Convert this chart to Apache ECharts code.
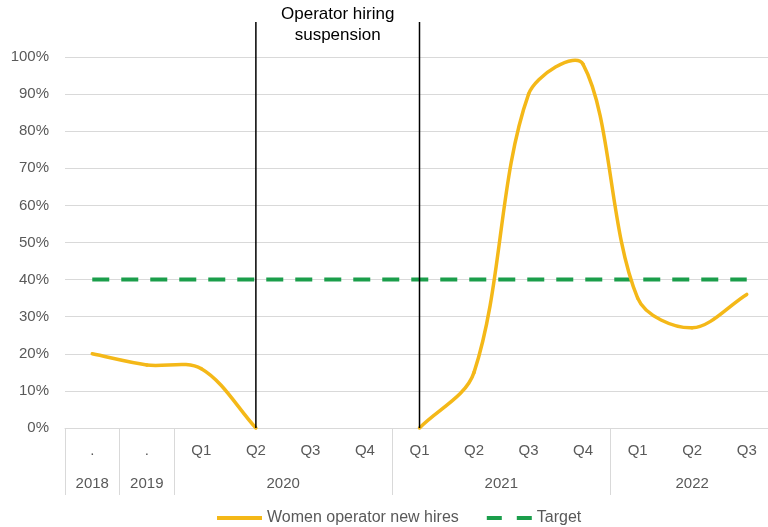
<!DOCTYPE html>
<html>
<head>
<meta charset="utf-8">
<title>Women operator new hires</title>
<script src="https://cdn.jsdelivr.net/npm/echarts@6/dist/echarts.min.js"></script>
<style>
  html, body { margin: 0; padding: 0; background: #ffffff; }
  #chart { width: 768px; height: 527px; }
</style>
</head>
<body>
<div id="chart"></div>
<script>
// Category labels (first axis row) and year groups (second axis row)
const quarterLabels = ['.', '.', 'Q1', 'Q2', 'Q3', 'Q4', 'Q1', 'Q2', 'Q3', 'Q4', 'Q1', 'Q2', 'Q3'];
const yearLabels = ['2018', '2019', '2020', '2021', '2022'];
const yearSpans = [1, 1, 4, 4, 3];

// Share of women among new operator hires (%), gap while hiring was suspended
const womenHires = [20, 17, 16, 0, null, null, 0, 15, 90, 98, 35, 27, 36];
const target = [40, 40, 40, 40, 40, 40, 40, 40, 40, 40, 40, 40, 40];

// Category indices bounding the hiring suspension
const suspensionStart = 3;
const suspensionEnd = 6;
const suspensionText = 'Operator hiring\nsuspension';

const labelColor = '#595959';
const gridColor = '#d9d9d9';
const hireColor = '#f4b818';
const targetColor = '#1b9e4b';
const fontFamily = '"Liberation Sans", Arial, sans-serif';

// Group boundaries (category index where each year starts) and group centres
const groupStarts = [];
const groupCentres = {};
let acc = 0;
yearSpans.forEach((span, i) => {
  groupStarts.push(acc);
  groupCentres[(acc + span / 2).toFixed(1)] = yearLabels[i];
  acc += span;
});

// One record per drawable segment: [startIndex, startValue, endValue]
const hireSegments = [];
for (let i = 0; i < womenHires.length - 1; i++) {
  if (womenHires[i] != null && womenHires[i + 1] != null) {
    hireSegments.push([i, womenHires[i], womenHires[i + 1]]);
  }
}

function hasValue(i) {
  return i >= 0 && i < womenHires.length && womenHires[i] != null;
}

// Smoothed segment: cubic Bezier whose handles follow the neighbouring points,
// scaled by chord length (spreadsheet-style smoothed line).
function renderHireSegment(params, api) {
  const i = api.value(0);
  const pt = (k) => api.coord([k, womenHires[k]]);
  const p1 = pt(i);
  const p2 = pt(i + 1);
  const p0 = hasValue(i - 1) ? pt(i - 1) : p1;
  const p3 = hasValue(i + 2) ? pt(i + 2) : p2;
  const dist = (a, b) => Math.hypot(b[0] - a[0], b[1] - a[1]);
  const d01 = dist(p0, p1), d12 = dist(p1, p2), d23 = dist(p2, p3);
  const t = 1 / 3;
  const f1 = (d01 + d12) > 0 ? t * d12 / (d01 + d12) : 0;
  const f2 = (d12 + d23) > 0 ? t * d12 / (d12 + d23) : 0;
  return {
    type: 'bezierCurve',
    shape: {
      x1: p1[0], y1: p1[1],
      cpx1: p1[0] + (p2[0] - p0[0]) * f1,
      cpy1: p1[1] + (p2[1] - p0[1]) * f1,
      cpx2: p2[0] - (p3[0] - p1[0]) * f2,
      cpy2: p2[1] - (p3[1] - p1[1]) * f2,
      x2: p2[0], y2: p2[1]
    },
    style: { stroke: hireColor, lineWidth: 3.5, fill: null, lineCap: 'round' },
    z2: 5
  };
}

const chart = echarts.init(document.getElementById('chart'), null, { renderer: 'canvas' });

chart.setOption({
  animation: false,
  backgroundColor: '#ffffff',
  textStyle: { fontFamily: fontFamily },
  grid: {
    left: 65, width: 709, top: 57, bottom: 99,
    containLabel: false,
    outerBoundsMode: 'none'
  },
  legend: {
    left: 217,
    top: 510,
    padding: 0,
    itemWidth: 45,
    itemHeight: 4,
    itemGap: 28,
    textStyle: { color: labelColor, fontSize: 16, fontFamily: fontFamily },
    data: [
      { name: 'Women operator new hires', icon: 'path://M0,0H45V4H0Z' },
      { name: 'Target', icon: 'path://M0,0H15V4H0Z M30,0H45V4H30Z' }
    ]
  },
  xAxis: [
    {
      type: 'category',
      data: quarterLabels,
      boundaryGap: true,
      axisLine: { show: true, lineStyle: { color: gridColor, width: 1 } },
      axisTick: {
        show: true,
        length: 67,
        lineStyle: { color: gridColor, width: 1 },
        interval: function (idx) { return groupStarts.indexOf(idx) !== -1; }
      },
      axisLabel: {
        interval: 0,
        margin: 15,
        color: labelColor,
        fontSize: 15,
        fontFamily: fontFamily
      },
      splitLine: { show: false }
    },
    {
      type: 'value',
      position: 'bottom',
      min: 0,
      max: quarterLabels.length,
      interval: 0.5,
      axisLine: { show: false },
      axisTick: { show: false },
      splitLine: { show: false },
      axisLabel: {
        margin: 48,
        color: labelColor,
        fontSize: 15,
        fontFamily: fontFamily,
        showMinLabel: true,
        showMaxLabel: true,
        formatter: function (v) { return groupCentres[v.toFixed(1)] || ''; }
      }
    }
  ],
  yAxis: {
    type: 'value',
    min: 0,
    max: 100,
    interval: 10,
    axisLine: { show: false },
    axisTick: { show: false },
    axisLabel: {
      formatter: '{value}%',
      margin: 16,
      color: labelColor,
      fontSize: 15,
      fontFamily: fontFamily
    },
    splitLine: { show: true, lineStyle: { color: gridColor, width: 1 } }
  },
  series: [
    {
      name: 'Women operator new hires',
      type: 'custom',
      xAxisIndex: 0,
      yAxisIndex: 0,
      data: hireSegments,
      encode: { x: 0, y: [1, 2] },
      renderItem: renderHireSegment,
      itemStyle: { color: hireColor },
      clip: false,
      z: 3
    },
    {
      name: 'Target',
      type: 'line',
      xAxisIndex: 0,
      data: target,
      symbol: 'none',
      lineStyle: { color: targetColor, width: 4, type: [17, 12] },
      itemStyle: { color: targetColor },
      z: 2
    }
  ]
});

// Suspension markers: vertical rules at the boundary categories plus caption
const p0 = chart.convertToPixel({ xAxisIndex: 0, yAxisIndex: 0 }, [suspensionStart, 0]);
const p1 = chart.convertToPixel({ xAxisIndex: 0, yAxisIndex: 0 }, [suspensionEnd, 0]);
const ruleTop = 22;
chart.setOption({
  graphic: [
    {
      type: 'line',
      shape: { x1: p0[0], y1: ruleTop, x2: p0[0], y2: p0[1] },
      style: { stroke: '#000000', lineWidth: 1.5 },
      z: 10
    },
    {
      type: 'line',
      shape: { x1: p1[0], y1: ruleTop, x2: p1[0], y2: p1[1] },
      style: { stroke: '#000000', lineWidth: 1.5 },
      z: 10
    },
    {
      type: 'text',
      x: (p0[0] + p1[0]) / 2,
      y: 4,
      style: {
        text: suspensionText,
        fill: '#000000',
        font: '17px "Liberation Sans", Arial, sans-serif',
        align: 'center',
        verticalAlign: 'top',
        lineHeight: 21
      },
      z: 10
    }
  ]
});
</script>
</body>
</html>
